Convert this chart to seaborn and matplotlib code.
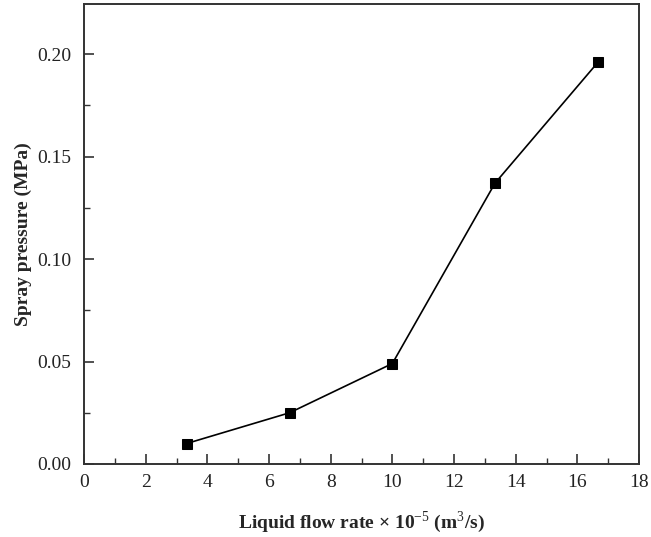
import matplotlib
matplotlib.use("Agg")
import matplotlib.pyplot as plt
import seaborn as sns
import pandas as pd
from matplotlib.ticker import MultipleLocator, FormatStrFormatter

flow_rate = [3.33, 6.67, 10.0, 13.33, 16.67]
pressure = [0.010, 0.025, 0.049, 0.137, 0.196]

df = pd.DataFrame({"flow": flow_rate, "pressure": pressure})

sns.set_theme(style="ticks")
plt.rcParams["font.family"] = ["Liberation Serif", "DejaVu Serif"]
plt.rcParams["mathtext.fontset"] = "custom"
plt.rcParams["mathtext.rm"] = "Liberation Serif"
plt.rcParams["mathtext.bf"] = "Liberation Serif:bold"

fig = plt.figure(figsize=(6.51, 5.37), dpi=100)
ax = fig.add_axes([84 / 651, 73 / 537, 555 / 651, 460 / 537])

sns.lineplot(data=df, x="flow", y="pressure", ax=ax, color="black",
             linewidth=1.2, marker="s", markersize=7, markeredgecolor="black",
             markerfacecolor="black")

ax.set_xlim(0, 18)
ax.set_ylim(0, 0.2244)
ax.xaxis.set_major_locator(MultipleLocator(2))
ax.xaxis.set_minor_locator(MultipleLocator(1))
ax.yaxis.set_major_locator(MultipleLocator(0.05))
ax.yaxis.set_minor_locator(MultipleLocator(0.025))
ax.yaxis.set_major_formatter(FormatStrFormatter("%.2f"))

ax.tick_params(which="major", direction="in", length=7, width=1.2,
               labelsize=14, colors="#333333", labelcolor="#222222")
ax.tick_params(which="minor", direction="in", length=4, width=1.0,
               colors="#333333")
ax.tick_params(axis="x", pad=7)
ax.tick_params(axis="y", pad=9)
for s in ax.spines.values():
    s.set_linewidth(1.4)
    s.set_color("#333333")

ax.set_xlabel(r"Liquid flow rate × 10$^{-5}$ (m$^{3}$/s)",
              fontsize=14, fontweight="bold")
ax.set_ylabel("Spray pressure (MPa)", fontsize=14, fontweight="bold")
ax.xaxis.set_label_coords(0.5, -0.098)
ax.yaxis.set_label_coords(-0.094, 0.5)

fig.savefig("out.png", dpi=100)
